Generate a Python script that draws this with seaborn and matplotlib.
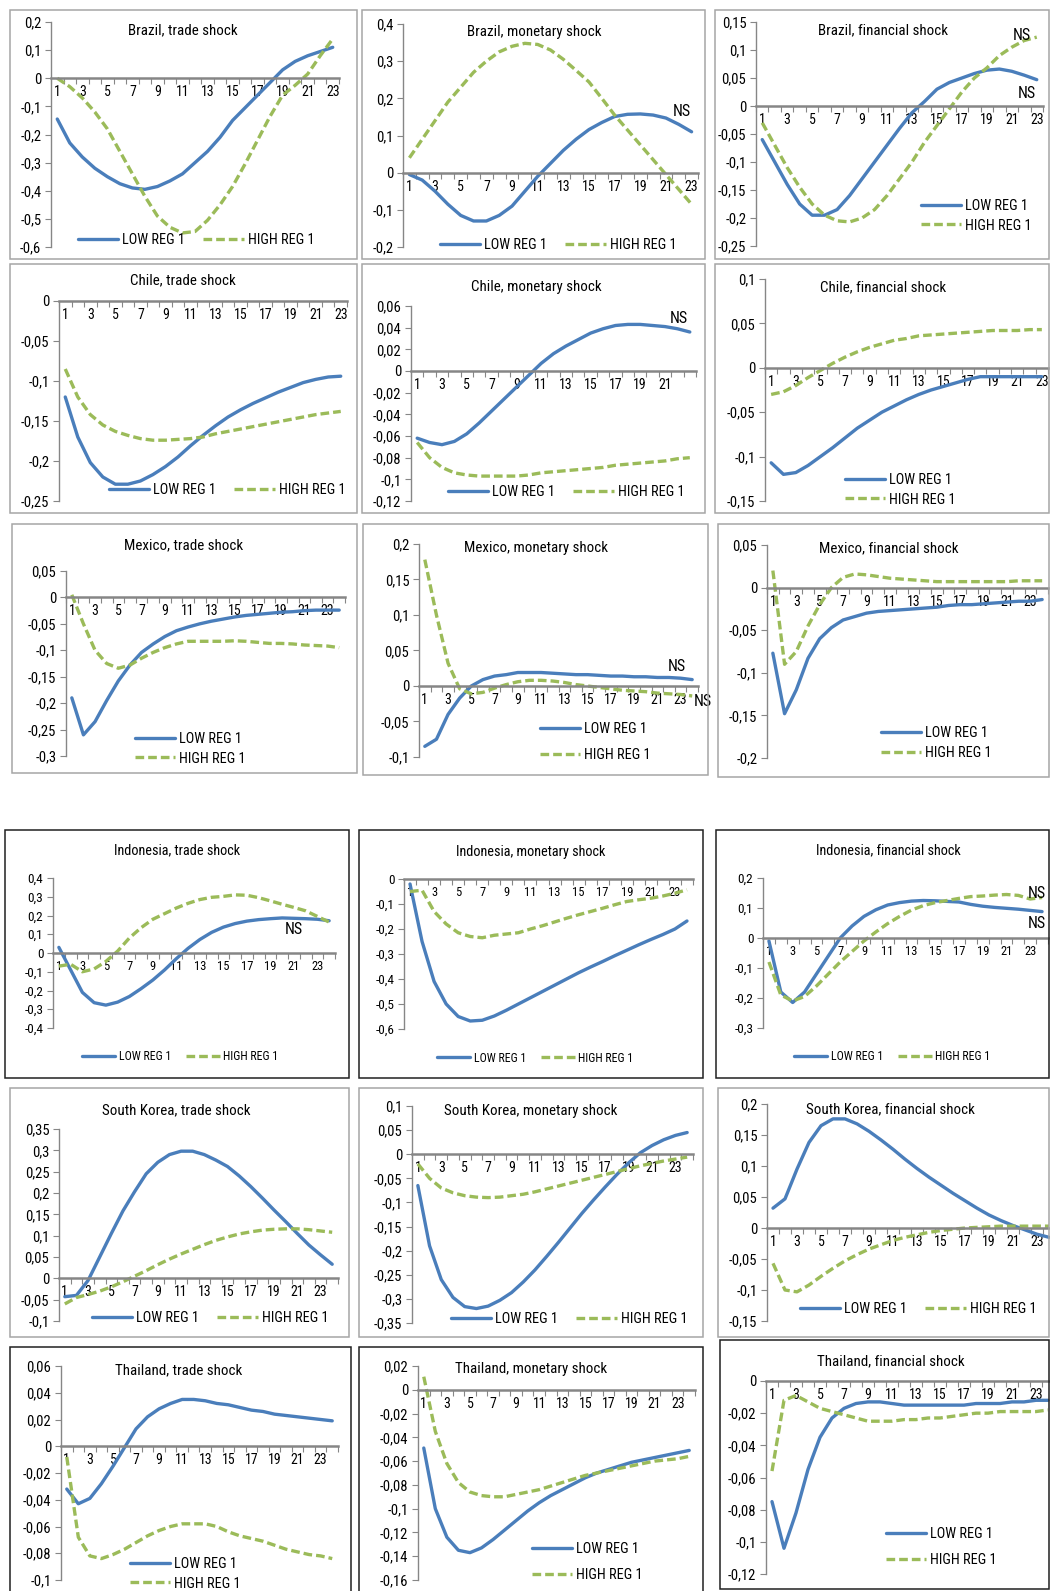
import numpy as np
import pandas as pd
import matplotlib
matplotlib.use("Agg")
import matplotlib.pyplot as plt
import seaborn as sns
from matplotlib.patches import Rectangle
from matplotlib.ticker import FuncFormatter
from matplotlib import font_manager as fm

# ---------------- data ----------------
series_labels = ["LOW REG 1", "HIGH REG 1"]

brazil_trade_low = [-0.145, -0.23, -0.28, -0.32, -0.35, -0.375, -0.39, -0.395, -0.385, -0.365, -0.34, -0.30, -0.26, -0.21, -0.15, -0.105, -0.06, -0.015, 0.03, 0.06, 0.08, 0.095, 0.11]
brazil_trade_high = [0.0, -0.03, -0.07, -0.12, -0.18, -0.26, -0.34, -0.42, -0.49, -0.53, -0.55, -0.545, -0.505, -0.45, -0.385, -0.305, -0.22, -0.135, -0.06, -0.025, 0.015, 0.08, 0.14]

brazil_monetary_low = [-0.005, -0.02, -0.05, -0.085, -0.115, -0.13, -0.13, -0.115, -0.09, -0.05, -0.01, 0.025, 0.06, 0.09, 0.116, 0.135, 0.151, 0.157, 0.158, 0.155, 0.147, 0.13, 0.11]
brazil_monetary_high = [0.04, 0.09, 0.14, 0.19, 0.23, 0.27, 0.30, 0.325, 0.34, 0.348, 0.345, 0.33, 0.305, 0.275, 0.244, 0.2, 0.155, 0.115, 0.075, 0.035, -0.005, -0.045, -0.085]

brazil_financial_low = [-0.06, -0.10, -0.14, -0.175, -0.195, -0.195, -0.185, -0.16, -0.13, -0.10, -0.07, -0.04, -0.012, 0.008, 0.03, 0.042, 0.05, 0.058, 0.064, 0.066, 0.062, 0.055, 0.047]
brazil_financial_high = [-0.03, -0.07, -0.11, -0.145, -0.175, -0.195, -0.205, -0.207, -0.2, -0.185, -0.16, -0.13, -0.1, -0.065, -0.035, -0.005, 0.025, 0.05, 0.068, 0.09, 0.105, 0.117, 0.123]

chile_trade_low = [-0.12, -0.17, -0.202, -0.22, -0.229, -0.229, -0.225, -0.217, -0.207, -0.195, -0.181, -0.168, -0.156, -0.145, -0.136, -0.128, -0.121, -0.114, -0.108, -0.102, -0.098, -0.095, -0.094]
chile_trade_high = [-0.085, -0.12, -0.142, -0.155, -0.163, -0.168, -0.172, -0.174, -0.174, -0.173, -0.172, -0.17, -0.166, -0.163, -0.16, -0.157, -0.154, -0.151, -0.148, -0.145, -0.142, -0.14, -0.138]

chile_monetary_low = [-0.062, -0.066, -0.068, -0.065, -0.058, -0.048, -0.037, -0.026, -0.015, -0.004, 0.007, 0.016, 0.023, 0.029, 0.035, 0.039, 0.042, 0.043, 0.043, 0.042, 0.041, 0.039, 0.036]
chile_monetary_high = [-0.066, -0.08, -0.089, -0.094, -0.096, -0.097, -0.097, -0.097, -0.097, -0.096, -0.094, -0.093, -0.092, -0.091, -0.09, -0.089, -0.087, -0.086, -0.085, -0.084, -0.083, -0.081, -0.08]

chile_financial_low = [-0.107, -0.12, -0.118, -0.11, -0.1, -0.09, -0.079, -0.068, -0.059, -0.05, -0.043, -0.036, -0.03, -0.025, -0.021, -0.017, -0.013, -0.01, -0.01, -0.01, -0.01, -0.01, -0.01]
chile_financial_high = [-0.03, -0.027, -0.02, -0.011, -0.003, 0.005, 0.012, 0.018, 0.023, 0.027, 0.031, 0.033, 0.036, 0.037, 0.038, 0.039, 0.04, 0.041, 0.042, 0.042, 0.042, 0.043, 0.043]

mexico_trade_low = [-0.19, -0.26, -0.235, -0.195, -0.158, -0.128, -0.104, -0.088, -0.074, -0.063, -0.056, -0.05, -0.045, -0.041, -0.037, -0.034, -0.032, -0.03, -0.028, -0.027, -0.025, -0.024, -0.024, -0.024]
mexico_trade_high = [0.005, -0.05, -0.1, -0.125, -0.134, -0.128, -0.115, -0.104, -0.095, -0.088, -0.083, -0.083, -0.083, -0.083, -0.082, -0.083, -0.085, -0.087, -0.087, -0.088, -0.09, -0.091, -0.092, -0.095]

mexico_monetary_low = [-0.085, -0.075, -0.04, -0.017, 0.0, 0.009, 0.014, 0.016, 0.019, 0.019, 0.019, 0.018, 0.017, 0.016, 0.016, 0.015, 0.014, 0.014, 0.013, 0.013, 0.012, 0.012, 0.011, 0.009]
mexico_monetary_high = [0.178, 0.1, 0.032, -0.004, -0.011, -0.009, -0.003, 0.002, 0.006, 0.008, 0.008, 0.007, 0.005, 0.002, 0.0, -0.002, -0.004, -0.006, -0.007, -0.008, -0.01, -0.011, -0.012, -0.014]

mexico_financial_low = [-0.077, -0.148, -0.12, -0.083, -0.06, -0.047, -0.038, -0.034, -0.03, -0.028, -0.027, -0.026, -0.025, -0.024, -0.023, -0.021, -0.02, -0.02, -0.019, -0.018, -0.017, -0.016, -0.016, -0.014]
mexico_financial_high = [0.02, -0.09, -0.075, -0.045, -0.02, 0.0, 0.012, 0.016, 0.015, 0.013, 0.011, 0.01, 0.009, 0.008, 0.007, 0.007, 0.007, 0.007, 0.007, 0.007, 0.007, 0.008, 0.008, 0.008]

indonesia_trade_low = [0.03, -0.09, -0.21, -0.265, -0.278, -0.262, -0.232, -0.19, -0.144, -0.09, -0.03, 0.025, 0.072, 0.11, 0.138, 0.157, 0.17, 0.178, 0.183, 0.187, 0.185, 0.183, 0.18, 0.172]
indonesia_trade_high = [-0.07, -0.06, -0.1, -0.085, -0.045, 0.01, 0.08, 0.135, 0.18, 0.21, 0.24, 0.265, 0.285, 0.297, 0.302, 0.31, 0.308, 0.295, 0.278, 0.26, 0.243, 0.225, 0.195, 0.165]

indonesia_monetary_low = [-0.02, -0.25, -0.41, -0.5, -0.55, -0.568, -0.565, -0.548, -0.525, -0.5, -0.475, -0.45, -0.425, -0.4, -0.375, -0.352, -0.33, -0.307, -0.285, -0.263, -0.242, -0.222, -0.2, -0.168]
indonesia_monetary_high = [-0.05, -0.045, -0.13, -0.18, -0.215, -0.23, -0.235, -0.225, -0.22, -0.215, -0.2, -0.187, -0.172, -0.157, -0.143, -0.13, -0.117, -0.103, -0.09, -0.083, -0.077, -0.068, -0.057, -0.043]

indonesia_financial_low = [-0.01, -0.18, -0.215, -0.18, -0.12, -0.06, 0.0, 0.04, 0.072, 0.094, 0.11, 0.118, 0.123, 0.125, 0.124, 0.122, 0.12, 0.112, 0.106, 0.102, 0.099, 0.096, 0.092, 0.088]
indonesia_financial_high = [-0.08, -0.19, -0.21, -0.195, -0.16, -0.12, -0.08, -0.045, -0.01, 0.02, 0.048, 0.072, 0.093, 0.108, 0.118, 0.125, 0.132, 0.138, 0.14, 0.143, 0.145, 0.142, 0.13, 0.135]

korea_trade_low = [-0.043, -0.04, -0.005, 0.05, 0.105, 0.158, 0.203, 0.245, 0.272, 0.29, 0.298, 0.298, 0.29, 0.277, 0.262, 0.24, 0.215, 0.188, 0.16, 0.133, 0.105, 0.078, 0.055, 0.033]
korea_trade_high = [-0.06, -0.045, -0.038, -0.03, -0.02, -0.008, 0.005, 0.018, 0.032, 0.045, 0.057, 0.068, 0.079, 0.089, 0.097, 0.104, 0.109, 0.113, 0.115, 0.116, 0.116, 0.114, 0.111, 0.108]

korea_monetary_low = [-0.065, -0.19, -0.26, -0.297, -0.316, -0.32, -0.315, -0.303, -0.287, -0.265, -0.24, -0.212, -0.183, -0.153, -0.123, -0.095, -0.068, -0.042, -0.018, 0.003, 0.018, 0.03, 0.039, 0.045]
korea_monetary_high = [-0.02, -0.05, -0.07, -0.08, -0.086, -0.089, -0.09, -0.089, -0.086, -0.083, -0.078, -0.072, -0.066, -0.06, -0.054, -0.048, -0.042, -0.036, -0.03, -0.024, -0.019, -0.014, -0.01, -0.006]

korea_financial_low = [0.032, 0.047, 0.095, 0.138, 0.165, 0.176, 0.176, 0.168, 0.156, 0.142, 0.127, 0.111, 0.096, 0.082, 0.069, 0.056, 0.044, 0.032, 0.021, 0.012, 0.004, -0.003, -0.01, -0.015]
korea_financial_high = [-0.057, -0.1, -0.103, -0.092, -0.078, -0.065, -0.053, -0.043, -0.034, -0.027, -0.02, -0.015, -0.011, -0.007, -0.004, -0.002, 0.0, 0.001, 0.002, 0.003, 0.003, 0.003, 0.003, 0.003]

thailand_trade_low = [-0.032, -0.043, -0.039, -0.028, -0.015, -0.001, 0.013, 0.022, 0.028, 0.032, 0.035, 0.035, 0.034, 0.032, 0.031, 0.029, 0.027, 0.026, 0.024, 0.023, 0.022, 0.021, 0.02, 0.019]
thailand_trade_high = [-0.008, -0.068, -0.082, -0.084, -0.081, -0.077, -0.072, -0.067, -0.063, -0.06, -0.058, -0.058, -0.058, -0.06, -0.064, -0.067, -0.069, -0.071, -0.074, -0.077, -0.079, -0.081, -0.082, -0.084]

thailand_monetary_low = [-0.049, -0.1, -0.124, -0.135, -0.137, -0.133, -0.126, -0.118, -0.11, -0.102, -0.095, -0.089, -0.084, -0.079, -0.074, -0.07, -0.067, -0.064, -0.061, -0.059, -0.057, -0.055, -0.053, -0.051]
thailand_monetary_high = [0.011, -0.035, -0.062, -0.078, -0.086, -0.089, -0.09, -0.09, -0.088, -0.086, -0.084, -0.081, -0.078, -0.075, -0.072, -0.07, -0.068, -0.066, -0.064, -0.062, -0.06, -0.059, -0.058, -0.056]

thailand_financial_low = [-0.075, -0.104, -0.082, -0.055, -0.035, -0.023, -0.017, -0.014, -0.013, -0.013, -0.014, -0.015, -0.015, -0.015, -0.015, -0.015, -0.015, -0.014, -0.014, -0.014, -0.013, -0.013, -0.012, -0.012]
thailand_financial_high = [-0.056, -0.012, -0.009, -0.013, -0.017, -0.019, -0.021, -0.023, -0.025, -0.025, -0.025, -0.024, -0.024, -0.023, -0.023, -0.022, -0.021, -0.02, -0.02, -0.019, -0.019, -0.019, -0.019, -0.018]

# ---------------- style ----------------
W, H = 1050, 1591
BLUE = "#4A7EBB"
GREEN = "#9BBB59"
AXGRAY = "#868686"

sns.set_theme(style="white")

# choose the narrowest available sans font (Excel/Calibri look)
_fonts = fm.fontManager.ttflist
_names = {f.name for f in _fonts}
FONT = None
STRETCH = "normal"
for cand in ["Liberation Sans Narrow", "Arial Narrow", "Roboto Condensed", "Noto Sans Condensed",
             "Open Sans Condensed", "DejaVu Sans Condensed", "Carlito"]:
    if cand in _names:
        FONT = cand
        break
if FONT is None:
    for fam in ["Noto Sans", "DejaVu Sans", "Roboto", "Open Sans"]:
        if any(f.name == fam and f.stretch in ("condensed", "semi-condensed") and f.weight in (400, "normal", "regular")
               for f in _fonts):
            FONT = fam
            STRETCH = "condensed"
            break
SIZE_SCALE = 1.0
if FONT is None:
    FONT = "Liberation Sans"
    SIZE_SCALE = 0.9

plt.rcParams["font.family"] = [FONT, "DejaVu Sans"]
plt.rcParams["font.stretch"] = STRETCH
plt.rcParams["text.color"] = "black"

fig = plt.figure(figsize=(W / 100, H / 100), dpi=100)
fig.patch.set_facecolor("white")


def frect(x0, y0, x1, y1):
    return [x0 / W, 1 - y1 / H, (x1 - x0) / W, (y1 - y0) / H]


def fx(x):
    return x / W


def fy(y):
    return 1 - y / H


def comma(v, pos=None):
    v = round(v, 4)
    if abs(v) < 1e-9:
        return "0"
    return f"{v:g}".replace(".", ",")


GRAYBOX = "#A6A6A6"
DARKBOX = "#202020"

# text sizes: (x tick, y tick, title, legend)
STD = (10, 10.5, 10.8, 10.3)
SMALL = (9, 9.5, 10.3, 8.6)

panels = [
    dict(title="Brazil, trade shock", low=brazil_trade_low, high=brazil_trade_high,
         ylim=(-0.6, 0.2), step=0.1, axes=(51, 22, 339, 247), box=(10, 10, 357, 259), bc=GRAYBOX,
         txy=(183, 30), leg=("row", 196, 240), ns=[], xmax=23, fs=STD),
    dict(title="Brazil, monetary shock", low=brazil_monetary_low, high=brazil_monetary_high,
         ylim=(-0.2, 0.4), step=0.1, axes=(403, 24, 698, 247), box=(362, 10, 705, 259), bc=GRAYBOX,
         txy=(534, 32), leg=("row", 558, 245), ns=[(22.2, 0.165)], xmax=23, fs=STD),
    dict(title="Brazil, financial shock", low=brazil_financial_low, high=brazil_financial_high,
         ylim=(-0.25, 0.15), step=0.05, axes=(756, 22, 1043, 246), box=(715, 10, 1049, 259), bc=GRAYBOX,
         txy=(883, 30), leg=("col", 921, 216, 0.35), ns=[(21.8, 0.126), (22.2, 0.022)], xmax=23, fs=STD),
    dict(title="Chile, trade shock", low=chile_trade_low, high=chile_trade_high,
         ylim=(-0.25, 0.0), step=0.05, axes=(59, 301, 347, 501), box=(10, 264, 357, 513), bc=GRAYBOX,
         txy=(183, 280), leg=("row", 227, 490), ns=[], xmax=23, fs=STD),
    dict(title="Chile, monetary shock", low=chile_monetary_low, high=chile_monetary_high,
         ylim=(-0.12, 0.06), step=0.02, axes=(411, 306, 696, 501), box=(362, 264, 705, 513), bc=GRAYBOX,
         txy=(536, 287), leg=("row", 566, 492), ns=[(22.1, 0.0487)], xmax=21, fs=STD),
    dict(title="Chile, financial shock", low=chile_financial_low, high=chile_financial_high,
         ylim=(-0.15, 0.1), step=0.05, axes=(765, 279, 1048, 501), box=(715, 264, 1049, 513), bc=GRAYBOX,
         txy=(883, 287), leg=("col", 845, 490, 0.35), ns=[], xmax=23, fs=STD),
    dict(title="Mexico, trade shock", low=mexico_trade_low, high=mexico_trade_high,
         ylim=(-0.3, 0.05), step=0.05, axes=(66, 571, 345, 756), box=(12, 524, 357, 773), bc=GRAYBOX,
         txy=(184, 545), leg=("col", 135, 749, 0.35), ns=[], xmax=23, fs=STD),
    dict(title="Mexico, monetary shock", low=mexico_monetary_low, high=mexico_monetary_high,
         ylim=(-0.1, 0.2), step=0.05, axes=(419, 544, 698, 757), box=(363, 524, 708, 775), bc=GRAYBOX,
         txy=(536, 548), leg=("col", 540, 742, 0.9), ns=[(22.7, 0.028), (24.9, -0.022)], xmax=23, fs=STD),
    dict(title="Mexico, financial shock", low=mexico_financial_low, high=mexico_financial_high,
         ylim=(-0.2, 0.05), step=0.05, axes=(767, 545, 1048, 758), box=(718, 524, 1049, 777), bc=GRAYBOX,
         txy=(889, 548), leg=("col", 881, 743, 0.4), ns=[], xmax=23, fs=STD),
    dict(title="Indonesia, trade shock", low=indonesia_trade_low, high=indonesia_trade_high,
         ylim=(-0.4, 0.4), step=0.1, axes=(53, 878, 335, 1028), box=(5, 830, 349, 1078), bc=DARKBOX,
         txy=(177, 850), leg=("row", 180, 1057), ns=[(21.0, 0.123)], xmax=23, fs=SMALL),
    dict(title="Indonesia, monetary shock", low=indonesia_monetary_low, high=indonesia_monetary_high,
         ylim=(-0.6, 0.0), step=0.1, axes=(404, 879, 693, 1029), box=(359, 830, 703, 1078), bc=DARKBOX,
         txy=(531, 852), leg=("row", 535, 1058), ns=[], xmax=23, fs=SMALL),
    dict(title="Indonesia, financial shock", low=indonesia_financial_low, high=indonesia_financial_high,
         ylim=(-0.3, 0.2), step=0.1, axes=(763, 878, 1048, 1028), box=(716, 830, 1049, 1078), bc=DARKBOX,
         txy=(888, 850), leg=("row", 892, 1057), ns=[(24.3, 0.149), (24.3, 0.047)], ns_ha="right",
         xmax=23, fs=SMALL),
    dict(title="South Korea, trade shock", low=korea_trade_low, high=korea_trade_high,
         ylim=(-0.1, 0.35), step=0.05, axes=(59, 1129, 338, 1321), box=(10, 1088, 349, 1337), bc=GRAYBOX,
         txy=(176, 1110), leg=("row", 210, 1318), ns=[], xmax=23, fs=STD),
    dict(title="South Korea, monetary shock", low=korea_monetary_low, high=korea_monetary_high,
         ylim=(-0.35, 0.1), step=0.05, axes=(412, 1106, 693, 1323), box=(359, 1088, 703, 1337), bc=GRAYBOX,
         txy=(531, 1111), leg=("row", 569, 1319), ns=[], xmax=23, fs=STD),
    dict(title="South Korea, financial shock", low=korea_financial_low, high=korea_financial_high,
         ylim=(-0.15, 0.2), step=0.05, axes=(767, 1104, 1055, 1321), box=(718, 1088, 1049, 1337), bc=GRAYBOX,
         txy=(890, 1109), leg=("row", 918, 1309), ns=[], xmax=23, fs=STD),
    dict(title="Thailand, trade shock", low=thailand_trade_low, high=thailand_trade_high,
         ylim=(-0.1, 0.06), step=0.02, axes=(61, 1366, 338, 1580), box=(10, 1347, 351, 1595), bc=DARKBOX,
         txy=(179, 1370), leg=("col", 130, 1574, 0.35), ns=[], xmax=23, fs=STD),
    dict(title="Thailand, monetary shock", low=thailand_monetary_low, high=thailand_monetary_high,
         ylim=(-0.16, 0.02), step=0.02, axes=(418, 1366, 695, 1580), box=(359, 1347, 703, 1595), bc=DARKBOX,
         txy=(531, 1369), leg=("col", 532, 1562, 0.9), ns=[], xmax=23, fs=STD),
    dict(title="Thailand, financial shock", low=thailand_financial_low, high=thailand_financial_high,
         ylim=(-0.12, 0.0), step=0.02, axes=(766, 1381, 1054, 1574), box=(720, 1340, 1049, 1589), bc=DARKBOX,
         txy=(891, 1361), leg=("col", 886, 1547, 0.9), ns=[], xmax=23, fs=STD),
]


def draw_panel(p):
    xfs, yfs, tfs, lfs = [v * SIZE_SCALE for v in p["fs"]]
    b = p["box"]
    fig.add_artist(Rectangle((fx(b[0]), fy(b[3])), (b[2] - b[0]) / W, (b[3] - b[1]) / H,
                             transform=fig.transFigure, fill=False, edgecolor=p["bc"], lw=1.1, zorder=5))
    ax = fig.add_axes(frect(*p["axes"]))
    ax.patch.set_alpha(0)
    n = len(p["low"])
    x = np.arange(1, n + 1)
    df = pd.DataFrame({
        "t": np.concatenate([x, x]),
        "v": np.concatenate([p["low"], p["high"]]),
        "s": [series_labels[0]] * n + [series_labels[1]] * n,
    })
    sns.lineplot(data=df, x="t", y="v", hue="s", style="s", hue_order=series_labels,
                 style_order=series_labels,
                 palette={series_labels[0]: BLUE, series_labels[1]: GREEN},
                 dashes={series_labels[0]: "", series_labels[1]: (2.6, 1.2)},
                 linewidth=2.4, errorbar=None, legend=False, ax=ax, clip_on=False)
    ax.set_xlim(0.5, n + 0.5)
    ax.set_ylim(*p["ylim"])
    lo, hi = p["ylim"]
    yt = np.round(np.arange(lo, hi + p["step"] / 2, p["step"]), 4)
    ax.set_yticks(yt)
    ax.yaxis.set_major_formatter(FuncFormatter(comma))
    ax.set_xticks(list(range(1, p["xmax"] + 1, 2)))
    ax.set_xticklabels([str(v) for v in range(1, p["xmax"] + 1, 2)])
    ax.set_xticks(np.arange(0.5, n + 1, 1.0), minor=True)
    ax.set_xlabel("")
    ax.set_ylabel("")
    for s in ("top", "right"):
        ax.spines[s].set_visible(False)
    ax.spines["bottom"].set_position(("data", 0))
    ax.spines["bottom"].set_color(AXGRAY)
    ax.spines["bottom"].set_linewidth(1.8)
    ax.spines["left"].set_color(AXGRAY)
    ax.spines["left"].set_linewidth(1.0)
    ax.tick_params(axis="x", which="major", length=0, pad=5, labelsize=xfs, colors="black")
    ax.tick_params(axis="x", which="minor", length=4, width=0.8, color=AXGRAY, direction="out", bottom=True)
    ax.tick_params(axis="y", length=4, width=0.8, color=AXGRAY, direction="out", left=True,
                   labelsize=yfs, pad=3, labelcolor="black")
    for (nx, ny) in p["ns"]:
        ax.text(nx, ny, "NS", ha=p.get("ns_ha", "center"), va="center", fontsize=11.5 * SIZE_SCALE,
                color="black", clip_on=False)

    fig.text(fx(p["txy"][0]), fy(p["txy"][1]), p["title"], ha="center", va="center",
             fontsize=tfs, color="black")

    handles = ax.get_lines()[:2]
    leg = p["leg"]
    if leg[0] == "row":
        fig.legend(handles, series_labels, loc="center", bbox_to_anchor=(fx(leg[1]), fy(leg[2])),
                   ncol=2, frameon=False, fontsize=lfs, handlelength=2.8, handletextpad=0.3,
                   columnspacing=1.3, borderpad=0, borderaxespad=0)
    else:
        fig.legend(handles, series_labels, loc="center left", bbox_to_anchor=(fx(leg[1]), fy(leg[2])),
                   ncol=1, frameon=False, fontsize=lfs, handlelength=2.8, handletextpad=0.3,
                   labelspacing=leg[3], borderpad=0, borderaxespad=0)


for p in panels:
    draw_panel(p)

fig.savefig("out.png", dpi=100, facecolor="white")
